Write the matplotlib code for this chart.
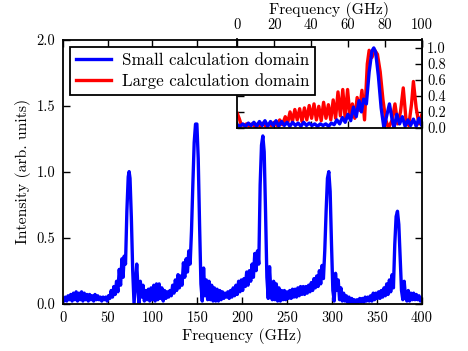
import matplotlib
matplotlib.use("Agg")
import matplotlib.pyplot as plt

# ---- data: small calculation domain (frequency GHz, intensity arb. units)
freq_small = [0, 1.5, 3, 4.5, 6, 7.5, 9, 10.5, 12, 13.5, 15, 16.5, 18, 19.5, 21, 22.5, 24, 25.5, 27, 28.5,
              30, 31.5, 33, 34.5, 36, 37.5, 39, 40.5, 42, 43.5, 45, 46.5, 48, 49.5, 51, 52.5, 54, 55.5, 57, 58.5,
              60, 61.5, 63, 64.5, 66, 67.3, 68.5, 70, 71.5, 73, 74, 75, 76.5, 78, 79.5, 81, 82.5, 84, 85, 86.5,
              88, 89.5, 91, 92.5, 94, 95.5, 97, 98.5, 100, 101.5, 103, 104.5, 106, 107.5, 109, 110.5, 112, 113.5,
              115, 116.5, 118, 119.5, 121, 122.5, 124, 125.5, 127, 128.5, 130, 131.5, 133, 134.5, 136, 137.5,
              139, 140.5, 142, 143.5, 145, 146.5, 148, 149.5, 151, 152.5, 154, 155.5, 157, 158.5, 160, 161.5,
              163, 164.5, 166, 167.5, 169, 170.5, 172, 173.5, 175, 176.5, 178, 179.5, 181, 182.5, 184, 185.5,
              187, 188.5, 190, 191.5, 193, 194.5, 196, 197.5, 199, 200.5, 202, 203.5, 205, 206.5, 208, 209.5,
              211, 212.5, 214, 215.5, 217, 218.5, 220, 221.5, 223, 224.5, 226, 227.5, 229, 230.5, 232, 233.5,
              235, 236.5, 238, 239.5, 241, 242.5, 244, 245.5, 247, 248.5, 250, 251.5, 253, 254.5, 256, 257.5,
              259, 260.5, 262, 263.5, 265, 266.5, 268, 269.5, 271, 272.5, 274, 275.5, 277, 278.5, 280, 281.5,
              283, 284.5, 286, 287.5, 289, 290.5, 292, 293.5, 295, 296.5, 298, 299.5, 301, 302.5, 304, 305.5,
              307, 308.5, 310, 311.5, 313, 314.5, 316, 317.5, 319, 320.5, 322, 323.5, 325, 326.5, 328, 329.5,
              331, 332.5, 334, 335.5, 337, 338.5, 340, 341.5, 343, 344.5, 346, 347.5, 349, 350.5, 352, 353.5,
              355, 356.5, 358, 359.5, 361, 362.5, 364, 365.5, 367, 368.5, 370, 371.5, 373, 374.5, 376, 377.5,
              379, 380.5, 382, 383.5, 385, 386.5, 388, 389.5, 391, 392.5, 394, 395.5, 397, 398.5, 400]
int_small = [0.04, 0.02, 0.05, 0.02, 0.06, 0.03, 0.07, 0.02, 0.08, 0.03, 0.09, 0.02, 0.08, 0.03, 0.09, 0.02, 0.08, 0.03, 0.07, 0.02,
             0.07, 0.03, 0.06, 0.02, 0.07, 0.03, 0.06, 0.03, 0.05, 0.02, 0.05, 0.03, 0.05, 0.02, 0.06, 0.04, 0.10, 0.05, 0.13, 0.07,
             0.17, 0.09, 0.26, 0.14, 0.34, 0.20, 0.36, 0.30, 0.70, 0.96, 1.00, 0.95, 0.65, 0.25, 0.00, 0.15, 0.30, 0.10, 0.00, 0.17,
             0.05, 0.14, 0.02, 0.10, 0.03, 0.11, 0.02, 0.12, 0.03, 0.14, 0.02, 0.15, 0.03, 0.15, 0.04, 0.12, 0.02, 0.10,
             0.04, 0.09, 0.05, 0.10, 0.06, 0.14, 0.08, 0.18, 0.10, 0.22, 0.12, 0.21, 0.14, 0.31, 0.20, 0.34,
             0.24, 0.40, 0.30, 0.55, 0.90, 1.22, 1.36, 1.36, 1.10, 0.60, 0.15, 0.02, 0.27, 0.06, 0.18, 0.03,
             0.17, 0.03, 0.14, 0.02, 0.12, 0.02, 0.11, 0.02, 0.10, 0.03, 0.09, 0.04, 0.08, 0.05, 0.09, 0.04,
             0.10, 0.05, 0.12, 0.06, 0.14, 0.07, 0.17, 0.09, 0.18, 0.10, 0.19, 0.13, 0.24, 0.14, 0.25, 0.17,
             0.30, 0.20, 0.38, 0.25, 0.40, 0.30, 0.90, 1.20, 1.27, 1.15, 0.70, 0.20, 0.04, 0.28, 0.08, 0.03,
             0.17, 0.03, 0.15, 0.02, 0.12, 0.02, 0.10, 0.03, 0.10, 0.03, 0.09, 0.04, 0.10, 0.04, 0.11, 0.05,
             0.11, 0.05, 0.12, 0.06, 0.13, 0.07, 0.13, 0.07, 0.13, 0.08, 0.14, 0.09, 0.16, 0.10, 0.19, 0.12,
             0.21, 0.13, 0.25, 0.15, 0.29, 0.19, 0.40, 0.70, 0.95, 1.00, 0.85, 0.45, 0.10, 0.02, 0.23, 0.10,
             0.18, 0.03, 0.12, 0.02, 0.08, 0.02, 0.06, 0.01, 0.05, 0.00, 0.04, 0.00, 0.03, 0.00, 0.03, 0.01,
             0.04, 0.01, 0.04, 0.01, 0.05, 0.02, 0.05, 0.02, 0.06, 0.02, 0.08, 0.03, 0.08, 0.04, 0.09, 0.04,
             0.10, 0.05, 0.12, 0.06, 0.15, 0.07, 0.18, 0.09, 0.22, 0.12, 0.45, 0.66, 0.70, 0.60, 0.35, 0.10,
             0.03, 0.17, 0.05, 0.02, 0.10, 0.02, 0.08, 0.03, 0.08, 0.03, 0.07, 0.03, 0.06, 0.02, 0.04]

# ---- data: large calculation domain (inset only, 0-100 GHz)
freq_large = [0, 1, 2, 3.5, 5, 6.5, 8, 9.5, 11, 12.5, 14, 15.5, 17, 18.5, 20, 21.5, 23, 24.5, 26, 27.3,
              28.6, 29.9, 31.2, 32.5, 33.8, 35.1, 36.4, 37.7, 39, 40.3, 41.6, 42.9, 44.2, 45.5, 46.8, 48.1,
              49.4, 50.7, 52, 53.3, 54.6, 55.9, 57.2, 58.5, 59.8, 61.1, 62.4, 63.7, 65, 66.3, 67.6, 69,
              70.5, 71.5, 73, 74.5, 76, 77.5, 79, 80.5, 82, 84, 85.5, 87, 88.5, 90, 91.5, 93, 94.5, 95.5,
              97, 98.5, 100]
int_large = [0.18, 0.12, 0.05, 0.03, 0.05, 0.02, 0.05, 0.02, 0.05, 0.02, 0.06, 0.02, 0.05, 0.03, 0.07, 0.03, 0.10, 0.04, 0.14, 0.06,
             0.20, 0.08, 0.23, 0.10, 0.24, 0.08, 0.25, 0.10, 0.28, 0.12, 0.30, 0.10, 0.27, 0.09, 0.32, 0.12,
             0.29, 0.10, 0.35, 0.12, 0.45, 0.15, 0.48, 0.12, 0.48, 0.15, 0.30, 0.12, 0.38, 0.22, 0.47, 0.10,
             0.80, 0.97, 0.88, 0.97, 0.92, 0.70, 0.35, 0.10, 0.00, 0.10, 0.30, 0.05, 0.20, 0.50, 0.10, 0.03, 0.30, 0.58,
             0.25, 0.05, 0.16]

x_ticks = [0, 50, 100, 150, 200, 250, 300, 350, 400]
y_ticks = [0.0, 0.5, 1.0, 1.5, 2.0]
inset_x_ticks = [0, 20, 40, 60, 80, 100]
inset_y_ticks = [0.0, 0.2, 0.4, 0.6, 0.8, 1.0]

plt.rcParams['font.family'] = ['cmr10', 'DejaVu Serif']
plt.rcParams['mathtext.fontset'] = 'cm'
plt.rcParams['axes.unicode_minus'] = False

TICK_FS = 10.4
LABEL_FS = 11.3
LEG_FS = 12.2
LW = 2.4

W, H = 468, 351
fig = plt.figure(figsize=(W / 100, H / 100), dpi=100)

def frac(l, t, r, b):
    return [l / W, 1 - b / H, (r - l) / W, (b - t) / H]

ax = fig.add_axes(frac(62.7, 39.5, 421.7, 303.7))
ln_small, = ax.plot(freq_small, int_small, color='#0000ff', lw=LW, solid_joinstyle='round')
ax.set_xlim(0, 400)
ax.set_ylim(0, 2.0)
ax.set_xticks(x_ticks)
ax.set_yticks(y_ticks)
ax.set_yticklabels([f"{v:.1f}" for v in y_ticks])
ax.set_xlabel("Frequency (GHz)", fontsize=LABEL_FS, labelpad=2)
ax.set_ylabel("Intensity (arb. units)", fontsize=LABEL_FS, labelpad=4)
ax.tick_params(direction='in', length=5, width=1, top=True, right=True, labelsize=TICK_FS, pad=5.5)
for s in ax.spines.values():
    s.set_linewidth(1.3)

ins = fig.add_axes(frac(237.3, 39.5, 421.7, 128.3))
ln_large, = ins.plot(freq_large, int_large, color='#ff0000', lw=LW, solid_joinstyle='round')
ins.plot(freq_small, int_small, color='#0000ff', lw=LW, solid_joinstyle='round')
ins.set_xlim(0, 100)
ins.set_ylim(-0.005, 1.105)
ins.set_xticks(inset_x_ticks)
ins.set_yticks(inset_y_ticks)
ins.set_yticklabels([f"{v:.1f}" for v in inset_y_ticks])
ins.xaxis.set_label_position('top')
ins.xaxis.tick_top()
ins.yaxis.tick_right()
ins.set_xlabel("Frequency (GHz)", fontsize=LABEL_FS, labelpad=3)
ins.tick_params(direction='in', length=5, width=1, top=True, bottom=True, left=True, right=True,
                labeltop=True, labelbottom=False, labelleft=False, labelright=True,
                labelsize=TICK_FS, pad=4)
ins.tick_params(axis='x', pad=5.5)
for s in ins.spines.values():
    s.set_linewidth(1.3)

leg = fig.legend([ln_small, ln_large], ["Small calculation domain", "Large calculation domain"],
                 loc='upper left', bbox_to_anchor=(70 / W, 1 - 47 / H), fontsize=LEG_FS,
                 fancybox=False, framealpha=1, edgecolor='black', handlelength=2.05,
                 borderpad=0.35, labelspacing=0.3, handletextpad=0.65, borderaxespad=0)
leg.get_frame().set_linewidth(1.3)

fig.savefig("out.png", dpi=100)
